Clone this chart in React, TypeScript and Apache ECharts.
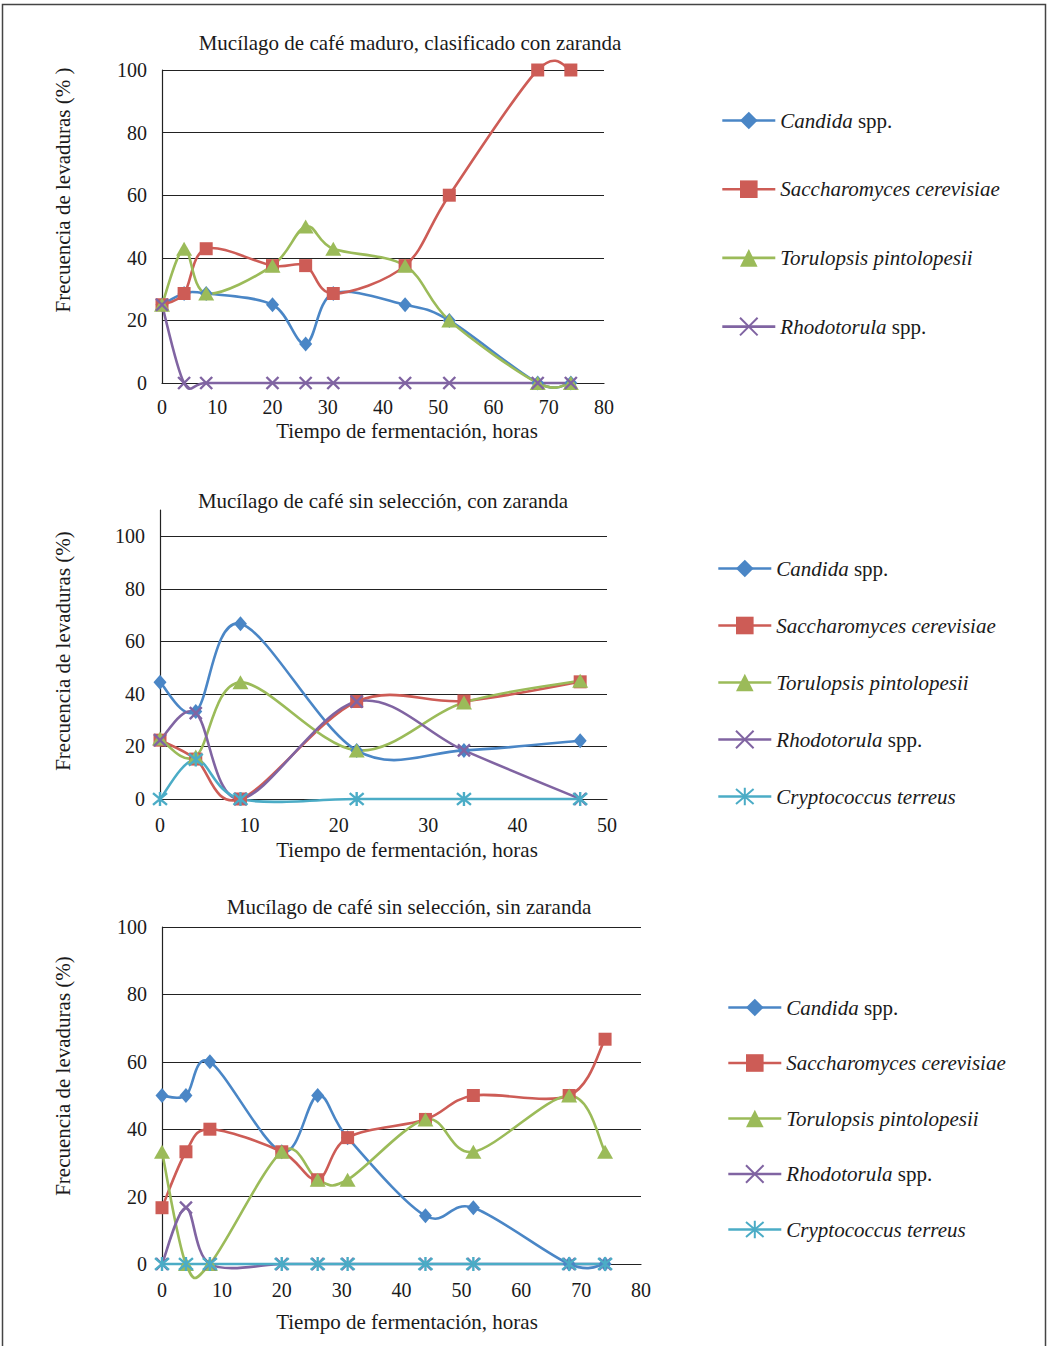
import React, { useEffect, useRef } from "react";
import * as echarts from "echarts";

// ---------- DATA ----------
const timeA = [0, 4, 8, 20, 26, 31, 44, 52, 68, 74];
const timeB = [0, 4, 9, 22, 34, 47];

// Panel 1: Mucílago de café maduro, clasificado con zaranda
const candida1 = [25, 28.6, 28.6, 25, 12.5, 28.6, 25, 20, 0, 0];
const sacchar1 = [25, 28.6, 42.9, 37.5, 37.5, 28.6, 37.5, 60, 100, 100];
const torul1 = [25, 42.9, 28.6, 37.5, 50, 42.9, 37.5, 20, 0, 0];
const rhodo1 = [25, 0, 0, 0, 0, 0, 0, 0, 0, 0];

// Panel 2: Mucílago de café sin selección, con zaranda
const candida2 = [44.4, 33.3, 66.7, 18.5, 18.5, 22.2];
const sacchar2 = [22.4, 15.2, 0, 37.1, 37.3, 44.6];
const torul2 = [23, 16.2, 44.4, 18.5, 36.7, 45];
const rhodo2 = [22.4, 32.7, 0, 37.1, 18.5, 0];
const crypto2 = [0, 15, 0, 0, 0, 0];

// Panel 3: Mucílago de café sin selección, sin zaranda
const candida3 = [50, 50, 60, 33.3, 50, 37.5, 14.3, 16.7, 0, 0];
const sacchar3 = [16.7, 33.3, 40, 33.3, 25, 37.5, 42.9, 50, 50, 66.7];
const torul3 = [33.3, 0, 0, 33.3, 25, 25, 42.9, 33.3, 50, 33.3];
const rhodo3 = [0, 16.7, 0, 0, 0, 0, 0, 0, 0, 0];
const crypto3 = [0, 0, 0, 0, 0, 0, 0, 0, 0, 0];

const titles = [
  "Mucílago de café maduro, clasificado con zaranda",
  "Mucílago de café sin selección, con zaranda",
  "Mucílago de café sin selección, sin zaranda",
];
const yNames = [
  "Frecuencia de levaduras (% )",
  "Frecuencia de levaduras (%)",
  "Frecuencia de levaduras (%)",
];
const xName = "Tiempo de fermentación, horas";

const speciesNames = [
  "Candida spp.",
  "Saccharomyces cerevisiae",
  "Torulopsis pintolopesii",
  "Rhodotorula spp.",
  "Cryptococcus terreus",
];

// ---------- STYLE ----------
const FONT = "Liberation Serif";
const TXT = "#1a1a1a";
const LABEL_SIZE = 20;
const TEXT_SIZE = 21;
const colors = ["#4A86C6", "#CD5C56", "#9BBB59", "#8064A2", "#4BACC6"];
const symbols = [
  "diamond",
  "rect",
  "triangle",
  "path://M0,0L10,10M10,0L0,10",
  "path://M5,0L5,10M0.8,0.8L9.2,9.2M9.2,0.8L0.8,9.2",
];
const symbolSizes: any[] = [[13, 15], 13, [16, 14], 12, 14];
const LINE_W = 2.6;

function pairs(xs: number[], ys: number[]) {
  return xs.map((x, i) => [x, ys[i]]);
}

// Excel-like smoothed curve (Catmull-Rom → cubic Bezier) in pixel space
function smoothPathData(pts: number[][]) {
  if (pts.length < 2) return "";
  let d = `M${pts[0][0]},${pts[0][1]}`;
  for (let i = 0; i < pts.length - 1; i++) {
    const p0 = pts[i - 1] || pts[i];
    const p1 = pts[i];
    const p2 = pts[i + 1];
    const p3 = pts[i + 2] || pts[i + 1];
    const c1x = p1[0] + (p2[0] - p0[0]) / 6;
    const c1y = p1[1] + (p2[1] - p0[1]) / 6;
    const c2x = p2[0] - (p3[0] - p1[0]) / 6;
    const c2y = p2[1] - (p3[1] - p1[1]) / 6;
    d += `C${c1x},${c1y},${c2x},${c2y},${p2[0]},${p2[1]}`;
  }
  return d;
}

function makeSeries(idx: number, sp: number, xs: number[], ys: number[]) {
  const stroked = sp >= 3;
  const data = pairs(xs, ys);
  const curve = {
    type: "custom",
    name: `curve-${idx}-${sp}`,
    coordinateSystem: "cartesian2d",
    xAxisIndex: idx,
    yAxisIndex: idx,
    data,
    encode: { x: 0, y: 1 },
    clip: false,
    silent: true,
    renderItem: (params: any, api: any) => {
      if (params.dataIndex !== 0) return null;
      const pts = data.map((p) => api.coord(p));
      return {
        type: "path",
        shape: { pathData: smoothPathData(pts) },
        style: {
          fill: "none",
          stroke: colors[sp],
          lineWidth: LINE_W,
          lineJoin: "round",
          lineCap: "round",
        },
      };
    },
  };
  const markers = {
    type: "line",
    name: speciesNames[sp],
    xAxisIndex: idx,
    yAxisIndex: idx,
    data,
    symbol: symbols[sp],
    symbolSize: symbolSizes[sp],
    showAllSymbol: true,
    clip: false,
    lineStyle: { color: colors[sp], width: LINE_W, opacity: 0 },
    itemStyle: {
      color: colors[sp],
      borderColor: colors[sp],
      borderWidth: stroked ? 2.4 : 0,
    },
    emphasis: { disabled: true },
  };
  return [curve, markers];
}

const legendRich = {
  i: { fontFamily: FONT, fontSize: TEXT_SIZE, fontStyle: "italic", color: TXT, lineHeight: 21 },
  n: { fontFamily: FONT, fontSize: TEXT_SIZE, color: TXT, lineHeight: 21 },
};
function legendFormatter(name: string) {
  if (name.endsWith(" spp.")) {
    return `{i|${name.replace(" spp.", "")}}{n| spp.}`;
  }
  return `{i|${name}}`;
}

export default function App() {
  const ref = useRef<HTMLDivElement>(null);
  useEffect(() => {
    document.body.style.margin = "0";
    const chart = echarts.init(ref.current!, null, { renderer: "svg" });

    const grids = [
      { left: 162, top: 70, width: 442, height: 313 },
      { left: 160, top: 510, width: 447, height: 289 },
      { left: 162, top: 927, width: 479, height: 337 },
    ];
    const xMax = [80, 50, 80];
    const yMax = [100, 110, 100];
    const xLabelMargin = [14, 16, 16];

    const axisLabelStyle = { fontFamily: FONT, fontSize: LABEL_SIZE, color: TXT };

    const xAxes = grids.map((_, i) => ({
      type: "value",
      gridIndex: i,
      min: 0,
      max: xMax[i],
      interval: 10,
      axisLine: { show: true, onZero: false, lineStyle: { color: "#222", width: 1.2 } },
      axisTick: { show: false },
      splitLine: { show: false },
      axisLabel: { ...axisLabelStyle, margin: xLabelMargin[i] },
    }));
    const yAxes = grids.map((_, i) => ({
      type: "value",
      gridIndex: i,
      min: 0,
      max: yMax[i],
      interval: 20,
      axisLine: { show: true, lineStyle: { color: "#222", width: 1.2 } },
      axisTick: { show: false },
      splitLine: {
        show: true,
        showMaxLine: yMax[i] === 100,
        lineStyle: { color: "#222", width: 1.1 },
      },
      axisLabel: {
        ...axisLabelStyle,
        margin: 15,
        showMaxLabel: yMax[i] === 100,
        formatter: (v: number) => (v > 100 ? "" : String(v)),
      },
    }));

    const series = [
      ...makeSeries(0, 0, timeA, candida1),
      ...makeSeries(0, 1, timeA, sacchar1),
      ...makeSeries(0, 2, timeA, torul1),
      ...makeSeries(0, 3, timeA, rhodo1),
      ...makeSeries(1, 0, timeB, candida2),
      ...makeSeries(1, 1, timeB, sacchar2),
      ...makeSeries(1, 2, timeB, torul2),
      ...makeSeries(1, 3, timeB, rhodo2),
      ...makeSeries(1, 4, timeB, crypto2),
      ...makeSeries(2, 0, timeA, candida3),
      ...makeSeries(2, 1, timeA, sacchar3),
      ...makeSeries(2, 2, timeA, torul3),
      ...makeSeries(2, 3, timeA, rhodo3),
      ...makeSeries(2, 4, timeA, crypto3),
    ];

    const legendBase = {
      orient: "vertical",
      padding: 0,
      itemWidth: 53,
      itemHeight: 22,
      selectedMode: false,
      formatter: legendFormatter,
      lineStyle: { width: LINE_W, opacity: 1 },
      textStyle: { fontFamily: FONT, fontSize: TEXT_SIZE, color: TXT, rich: legendRich },
    };
    const legends = [
      { ...legendBase, left: 721, top: 110, itemGap: 47.7, data: speciesNames.slice(0, 4) },
      { ...legendBase, left: 717, top: 558, itemGap: 36, data: speciesNames },
      { ...legendBase, left: 727, top: 997, itemGap: 34.5, data: speciesNames },
    ];

    const textStyle = (text: string) => ({
      text,
      fontFamily: FONT,
      fontSize: TEXT_SIZE,
      fill: TXT,
      textAlign: "center",
      textVerticalAlign: "middle",
    });
    const titlePos = [
      [410, 43],
      [383, 501],
      [409, 907],
    ];
    const xNamePos = [
      [407, 431],
      [407, 850],
      [407, 1322],
    ];
    const yNamePos = [
      [63, 190],
      [63, 651],
      [63, 1076],
    ];
    const graphics: any[] = [
      {
        type: "rect",
        shape: { x: 2.5, y: 4.5, width: 1043, height: 1360 },
        style: { fill: "none", stroke: "#444", lineWidth: 1.5 },
        silent: true,
      },
    ];
    for (let i = 0; i < 3; i++) {
      graphics.push({ type: "text", x: titlePos[i][0], y: titlePos[i][1], style: textStyle(titles[i]) });
      graphics.push({ type: "text", x: xNamePos[i][0], y: xNamePos[i][1], style: textStyle(xName) });
      graphics.push({
        type: "text",
        x: yNamePos[i][0],
        y: yNamePos[i][1],
        rotation: Math.PI / 2,
        style: textStyle(yNames[i]),
      });
    }

    chart.setOption({
      animation: false,
      backgroundColor: "#ffffff",
      grid: grids,
      xAxis: xAxes,
      yAxis: yAxes,
      legend: legends,
      series,
      graphic: graphics,
    });
    return () => chart.dispose();
  }, []);
  return <div ref={ref} style={{ width: 1051, height: 1346 }} />;
}
